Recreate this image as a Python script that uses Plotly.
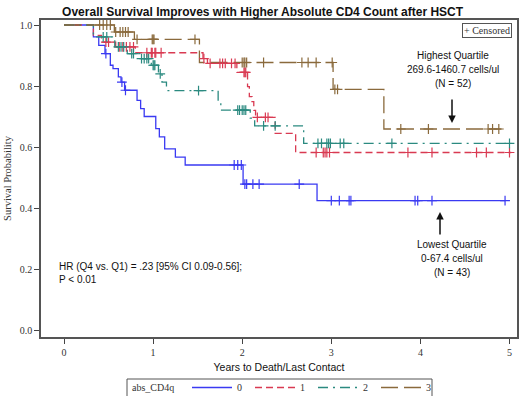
import numpy as np
import plotly.graph_objects as go

# ---------------- data ----------------
groups = ["0", "1", "2", "3"]
legend_title = "abs_CD4q"

# group 0 (lowest quartile)
times0 = [0, 0.33, 0.39, 0.46, 0.52, 0.55, 0.61, 0.64, 0.68, 0.82, 0.86, 0.90,
          1.03, 1.07, 1.13, 1.25, 1.36, 2.01, 2.84, 4.95]
surv0 = [1.0, 0.961, 0.933, 0.906, 0.868, 0.857, 0.830, 0.813, 0.786, 0.753, 0.726,
         0.700, 0.660, 0.633, 0.594, 0.567, 0.541, 0.478, 0.424, 0.424]
cens0 = [0.47, 0.65, 0.69, 1.91, 1.95, 1.99, 2.03, 2.05, 2.12, 2.19, 2.64,
         3.00, 3.09, 3.20, 3.22, 3.94, 3.97, 4.13, 4.95]

# group 1
times1 = [0, 0.33, 0.42, 0.58, 0.80, 1.56, 1.61, 1.94, 2.06, 2.08, 2.11, 2.13,
          2.15, 2.37, 2.60, 5.02]
surv1 = [1.0, 0.966, 0.944, 0.928, 0.909, 0.890, 0.874, 0.845, 0.798, 0.765, 0.749,
         0.720, 0.697, 0.645, 0.582, 0.582]
cens1 = [0.47, 0.50, 0.62, 0.66, 0.70, 0.74, 0.78, 0.93, 0.98, 0.99, 1.02, 1.03,
         1.09, 1.57, 1.64, 1.75, 1.78, 1.81, 1.88, 1.92, 2.02, 2.03, 2.04, 2.17,
         2.26, 2.29, 2.83, 2.91, 2.93, 2.95, 2.98, 3.86, 4.13, 4.63, 4.74, 5.00]

# group 2
times2 = [0, 0.33, 0.57, 0.71, 0.85, 0.98, 1.06, 1.10, 1.15, 1.73, 1.76, 2.09,
          2.14, 2.69, 5.02]
surv2 = [1.0, 0.961, 0.928, 0.906, 0.890, 0.868, 0.840, 0.813, 0.785, 0.749, 0.721,
         0.695, 0.669, 0.612, 0.612]
cens2 = [0.44, 0.48, 0.61, 0.64, 0.67, 0.76, 0.78, 0.87, 0.90, 0.93, 0.95, 1.00,
         1.01, 1.02, 1.08, 1.51, 1.95, 1.97, 2.00, 2.02, 2.04, 2.24, 2.37, 2.85,
         2.89, 2.95, 2.97, 2.99, 3.10, 3.14, 3.68, 5.00]

# group 3 (highest quartile)
times3 = [0, 0.565, 0.79, 1.52, 3.02, 3.59, 4.91]
surv3 = [1.0, 0.977, 0.953, 0.877, 0.789, 0.659, 0.659]
cens3 = [0.40, 0.44, 0.48, 0.52, 0.58, 0.63, 0.66, 0.69, 0.72, 0.82, 0.99, 1.00,
         1.01, 1.47, 2.00, 2.02, 2.03, 2.05, 2.24, 2.67, 2.74, 2.83, 3.01, 3.04,
         3.07, 3.78, 4.09, 4.76, 4.81, 4.88]

x_ticks = [0, 1, 2, 3, 4, 5]
y_ticks = [0.0, 0.2, 0.4, 0.6, 0.8, 1.0]

# ---------------- styles ----------------
colors = ["#3a3af2", "#d93a52", "#2b8a80", "#8a6a3c"]
dashes = ["solid", "7px,4px", "10px,5px,2px,5px", "17px,6px"]

series = [(times0, surv0, cens0), (times1, surv1, cens1),
          (times2, surv2, cens2), (times3, surv3, cens3)]

W, H = 520, 396
L, R, T, B = 41, 517, 20, 337
X0PX, XPX = 64.0, 89.1
Y0PX, YPX = 330.0, 305.0


def px_x(px):
    return (px - X0PX) / XPX


def px_y(py):
    return (Y0PX - py) / YPX


def paper_x(px):
    return (px - L) / (R - L)


def paper_y(py):
    return (B - py) / (B - T)


def surv_at(times, surv, t):
    idx = np.searchsorted(np.array(times), t, side="right") - 1
    return surv[int(idx)]


fig = go.Figure()
for g, (tt, ss, cc), col, dsh in zip(groups, series, colors, dashes):
    fig.add_trace(go.Scatter(
        x=tt, y=ss, mode="lines", name=g, line_shape="hv",
        line=dict(color=col, width=1.3, dash=dsh), showlegend=True))
for g, (tt, ss, cc), col in zip(groups, series, colors):
    fig.add_trace(go.Scatter(
        x=cc, y=[surv_at(tt, ss, c) for c in cc], mode="markers",
        marker=dict(symbol="cross-thin", size=7, line=dict(color=col, width=1.2)),
        showlegend=False, hoverinfo="skip"))

serif = "Liberation Serif, Times New Roman, serif"
sans = "Liberation Sans, Arial, sans-serif"

annos = [
    dict(text="Highest Quartile", x=px_x(453), y=px_y(55)),
    dict(text="269.6-1460.7 cells/ul", x=px_x(453), y=px_y(69)),
    dict(text="(N = 52)", x=px_x(453), y=px_y(83)),
    dict(text="Lowest Quartile", x=px_x(452), y=px_y(244)),
    dict(text="0-67.4 cells/ul", x=px_x(452), y=px_y(258)),
    dict(text="(N = 43)", x=px_x(452), y=px_y(272)),
]
annotations = []
for a in annos:
    annotations.append(dict(text=a["text"], x=a["x"], y=a["y"], xref="x", yref="y",
                            showarrow=False, font=dict(family=sans, size=10, color="#111"),
                            xanchor="center", yanchor="middle"))
annotations.append(dict(text="HR (Q4 vs. Q1) = .23 [95% CI 0.09-0.56];<br>P < 0.01",
                        x=px_x(57), y=px_y(273), xref="x", yref="y", showarrow=False,
                        align="left", xanchor="left", yanchor="middle",
                        font=dict(family=sans, size=10, color="#111")))
annotations.append(dict(text="+ Censored", x=px_x(512), y=px_y(30), xref="x", yref="y",
                        showarrow=False, xanchor="right", yanchor="middle",
                        bordercolor="#555", borderwidth=1, borderpad=1,
                        font=dict(family=serif, size=10, color="#333")))
# arrows
annotations.append(dict(text="", x=px_x(452), y=px_y(123), xref="x", yref="y",
                        showarrow=True, ax=0, ay=-25, arrowhead=2, arrowsize=1,
                        arrowwidth=1.5, arrowcolor="#111"))
annotations.append(dict(text="", x=px_x(440), y=px_y(212), xref="x", yref="y",
                        showarrow=True, ax=0, ay=24, arrowhead=2, arrowsize=1,
                        arrowwidth=1.5, arrowcolor="#111"))
# legend title (drawn beside the legend items)
annotations.append(dict(text=legend_title, x=paper_x(130), y=paper_y(388),
                        xref="paper", yref="paper", showarrow=False,
                        xanchor="left", yanchor="middle",
                        font=dict(family=serif, size=10, color="#333")))

shapes = [dict(type="rect", xref="paper", yref="paper",
               x0=paper_x(127), x1=paper_x(432), y0=paper_y(379), y1=paper_y(400),
               line=dict(color="#555", width=1), fillcolor="rgba(0,0,0,0)", layer="above")]

fig.update_layout(
    width=W, height=H,
    margin=dict(l=L, r=W - R, t=T, b=H - B, autoexpand=False),
    paper_bgcolor="white", plot_bgcolor="white",
    title=dict(text="<b>Overall Survival Improves with Higher Absolute CD4 Count after HSCT</b>",
               x=0.505, xanchor="center", y=1 - 12 / H, yanchor="middle",
               font=dict(family=sans, size=12, color="#111")),
    xaxis=dict(range=[px_x(L), px_x(R)], tickvals=x_ticks, ticktext=[str(v) for v in x_ticks],
               ticks="outside", ticklen=5, tickcolor="#444", showgrid=False, zeroline=False,
               showline=True, linecolor="#555", linewidth=1.5, mirror=True,
               tickfont=dict(family=serif, size=10, color="#333"),
               title=dict(text="Years to Death/Last Contact", standoff=7,
                          font=dict(family=sans, size=10.5, color="#111"))),
    yaxis=dict(range=[px_y(B), px_y(T)], tickvals=y_ticks,
               ticktext=["%.1f" % v for v in y_ticks],
               ticks="outside", ticklen=5, tickcolor="#444", showgrid=False, zeroline=False,
               showline=True, linecolor="#555", linewidth=1.5, mirror=True,
               tickfont=dict(family=serif, size=10, color="#333"),
               title=dict(text="Survival Probability", standoff=6,
                          font=dict(family=serif, size=10.5, color="#333"))),
    legend=dict(orientation="h", x=paper_x(187), xanchor="left", y=paper_y(373),
                yanchor="top", bgcolor="rgba(0,0,0,0)", borderwidth=0,
                font=dict(family=serif, size=10, color="#333"),
                entrywidth=8, entrywidthmode="pixels", tracegroupgap=0,
                itemwidth=40),
    annotations=annotations,
    shapes=shapes,
    showlegend=True,
)

fig.write_html("out.html", config={"displayModeBar": False},
               post_script="document.body.style.margin='0';document.body.style.overflow='hidden';")
